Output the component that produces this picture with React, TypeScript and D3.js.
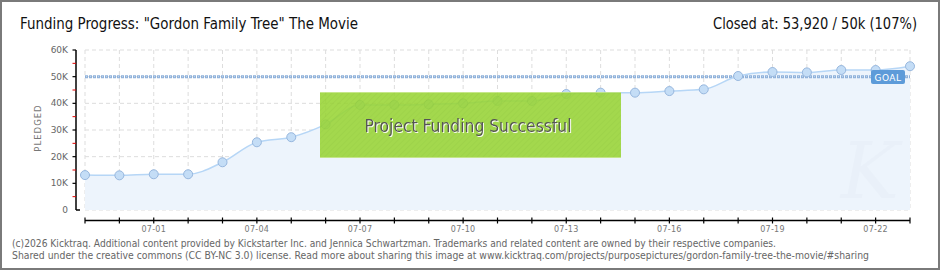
import React from "react";
import * as d3 from "d3";

const dates = ["06-29","06-30","07-01","07-02","07-03","07-04","07-05","07-06","07-07","07-08","07-09","07-10","07-11","07-12","07-13","07-14","07-15","07-16","07-17","07-18","07-19","07-20","07-21","07-22","07-23"];
const pledged = [13100,13000,13400,13400,17900,25400,27300,32100,39400,39400,39600,40000,40900,40900,43500,44000,44000,44600,45250,50250,51750,51600,52500,52500,53920];
const xLabels = ["07-01","07-04","07-07","07-10","07-13","07-16","07-19","07-22"];
const yTicks = [0,10000,20000,30000,40000,50000,60000];
const yTickLabels = ["0","10K","20K","30K","40K","50K","60K"];
const goal = 50000;

const W = 940, H = 270;

export default function App() {
  const x = d3.scalePoint<string>().domain(dates).range([85, 910]);
  const y = d3.scaleLinear().domain([0, 60000]).range([210, 50]);
  const pts = dates.map((d, i) => [x(d) as number, y(pledged[i])] as [number, number]);
  const line = d3.line().curve(d3.curveMonotoneX)(pts) || "";
  const area = d3.area<[number, number]>().x(p => p[0]).y0(y(0)).y1(p => p[1]).curve(d3.curveMonotoneX)(pts) || "";
  const minor = d3.range(5000, 60000, 10000);
  const gy = y(goal);
  const tickFont = "'DejaVu Sans', Verdana, sans-serif";
  return (
    <div style={{ position: "absolute", left: 0, top: 0 }}>
      <svg width={W} height={H} style={{ display: "block" }}>
        <defs>
          <pattern id="hatch" width="4" height="4" patternUnits="userSpaceOnUse" patternTransform="rotate(45)">
            <rect width="4" height="4" fill="#99d535" />
            <line x1="0" y1="0" x2="0" y2="4" stroke="#93cd30" strokeWidth="1.5" />
          </pattern>
          <filter id="wshadow" x="-5%" y="-20%" width="110%" height="140%">
            <feDropShadow dx="1" dy="1" stdDeviation="0" floodColor="#ffffff" floodOpacity="0.9" />
          </filter>
        </defs>
        <rect x={1} y={1} width={W - 2} height={H - 2} fill="#fff" stroke="#7a7a7a" strokeWidth={2} />
        {/* title */}
        <text x={20} y={29} fontFamily="'DejaVu Sans Condensed','DejaVu Sans',sans-serif" fontSize={15} fill="#111" textLength={338} lengthAdjust="spacingAndGlyphs">Funding Progress: "Gordon Family Tree" The Movie</text>
        <text x={713} y={29} fontFamily="'DejaVu Sans Condensed','DejaVu Sans',sans-serif" fontSize={15} fill="#111" textLength={204} lengthAdjust="spacingAndGlyphs">Closed at: 53,920 / 50k (107%)</text>
        {/* grid */}
        {yTicks.map(t => (
          <line key={"gy" + t} x1={85} x2={910} y1={y(t)} y2={y(t)} stroke="#dddddd" strokeDasharray="4,3" />
        ))}
        {dates.map(d => (
          <line key={"gx" + d} x1={x(d)} x2={x(d)} y1={50} y2={210} stroke="#dddddd" strokeDasharray="4,3" />
        ))}
        {/* area */}
        <path d={area} fill="#edf4fc" />
        {/* watermark */}
        <text x={870} y={198} fontFamily="'DejaVu Serif',serif" fontStyle="italic" fontSize={78} fill="#e6edf6" textAnchor="middle" opacity={0.45}>K</text>
        {/* goal line */}
        <line x1={85} x2={910} y1={gy} y2={gy} stroke="#8fb1da" strokeWidth={3} strokeDasharray="3,1" />
        <line x1={86} x2={910} y1={gy} y2={gy} stroke="#c4d8ef" strokeWidth={1} strokeDasharray="1,3" />
        {/* line + markers */}
        <path d={line} fill="none" stroke="#b6d6f6" strokeWidth={1.5} />
        {pts.map((p, i) => (
          <circle key={"c" + i} cx={p[0]} cy={p[1]} r={4.5} fill="#c4ddf6" stroke="#97b7de" strokeWidth={1} />
        ))}
        {/* goal badge */}
        <rect x={871} y={70} width={34} height={14} rx={2} fill="#5d9bd9" />
        <text x={888} y={80.5} textAnchor="middle" fontFamily={tickFont} fontSize={9} fill="#fff" letterSpacing={0.5}>GOAL</text>
        {/* success box */}
        <g opacity={0.88}>
          <rect x={320} y={92} width={301} height={66} fill="url(#hatch)" />
          <line x1={320} x2={621} y1={92.5} y2={92.5} stroke="#bfe47a" />
          <line x1={320} x2={621} y1={157.5} y2={157.5} stroke="#bfe47a" />
        </g>
        <text x={468} y={132} textAnchor="middle" fontFamily="'DejaVu Sans Condensed','DejaVu Sans',sans-serif" fontSize={17} fill="#555" textLength={207} lengthAdjust="spacingAndGlyphs" filter="url(#wshadow)">Project Funding Successful</text>
        {/* y axis */}
        <line x1={76} x2={76} y1={50} y2={210} stroke="#000" strokeWidth={1.5} />
        <line x1={76} x2={80} y1={210} y2={210} stroke="#000" strokeWidth={1.5} />
        {yTicks.slice(1).map(t => (
          <line key={"yt" + t} x1={72.5} x2={76} y1={y(t)} y2={y(t)} stroke="#000" strokeWidth={1.2} />
        ))}
        {minor.map(t => (
          <line key={"ym" + t} x1={72.5} x2={76} y1={y(t)} y2={y(t)} stroke="#e00000" strokeWidth={1} />
        ))}
        {yTicks.map((t, i) => (
          <text key={"yl" + t} x={68} y={y(t)} dy="0.35em" textAnchor="end" fontFamily={tickFont} fontSize={9} fill="#666">{yTickLabels[i]}</text>
        ))}
        <text transform="translate(41,128) rotate(-90)" textAnchor="middle" fontFamily={tickFont} fontSize={8.5} fill="#777" letterSpacing={1}>PLEDGED</text>
        {/* x axis */}
        <line x1={85} x2={910} y1={220.5} y2={220.5} stroke="#000" strokeWidth={1.5} />
        {dates.map(d => (
          <line key={"xt" + d} x1={x(d)} x2={x(d)} y1={217.5} y2={223.5} stroke="#000" strokeWidth={1.2} />
        ))}
        {xLabels.map(l => (
          <text key={"xl" + l} x={x(l)} y={231.5} textAnchor="middle" fontFamily={tickFont} fontSize={8} fill="#777" letterSpacing={0.3}>{l}</text>
        ))}
        {/* footer */}
        <text x={12} y={246.5} fontFamily={tickFont} fontSize={10} fill="#666" textLength={764} lengthAdjust="spacingAndGlyphs">(c)2026 Kicktraq. Additional content provided by Kickstarter Inc. and Jennica Schwartzman. Trademarks and related content are owned by their respective companies.</text>
        <text x={12} y={258.5} fontFamily={tickFont} fontSize={10} fill="#666" textLength={857} lengthAdjust="spacingAndGlyphs">Shared under the creative commons (CC BY-NC 3.0) license. Read more about sharing this image at www.kicktraq.com/projects/purposepictures/gordon-family-tree-the-movie/#sharing</text>
      </svg>
    </div>
  );
}
